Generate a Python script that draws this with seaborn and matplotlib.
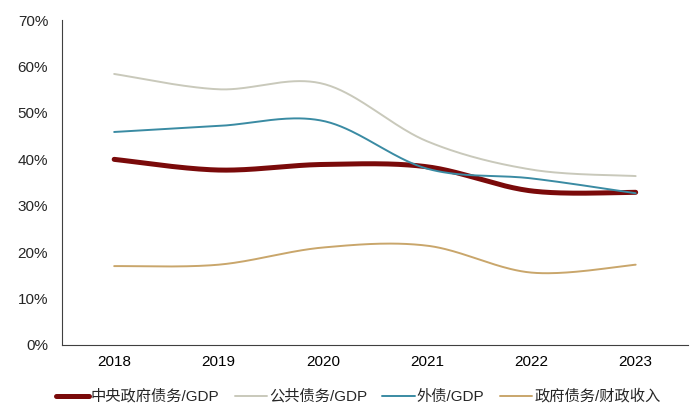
import numpy as np
import pandas as pd
import matplotlib
matplotlib.use("Agg")
import matplotlib.pyplot as plt
import seaborn as sns
from matplotlib.ticker import FixedLocator, PercentFormatter

years = ["2018", "2019", "2020", "2021", "2022", "2023"]
central_debt_gdp = [40.0, 37.7, 38.9, 38.4, 33.2, 32.9]
public_debt_gdp = [58.4, 55.1, 56.3, 43.9, 37.8, 36.4]
external_debt_gdp = [45.9, 47.2, 48.3, 38.0, 35.9, 32.7]
gov_debt_revenue = [17.0, 17.3, 21.0, 21.4, 15.6, 17.3]

series_names = ["中央政府债务/GDP", "公共债务/GDP", "外债/GDP", "政府债务/财政收入"]
series_values = [central_debt_gdp, public_debt_gdp, external_debt_gdp, gov_debt_revenue]
colors = ["#7a0a0a", "#c9c9bb", "#3a8ba3", "#c9a66b"]
widths = [3.6, 1.4, 1.4, 1.4]


def smooth(y, n=40):
    # Excel-style smoothed line (Catmull-Rom bezier) through the data points
    y = np.asarray(y, dtype=float)
    x = np.arange(len(y), dtype=float)
    px = np.concatenate([[x[0]], x, [x[-1]]])
    py = np.concatenate([[y[0]], y, [y[-1]]])
    xs, ys = [], []
    for i in range(len(y) - 1):
        p0x, p1x, p2x, p3x = px[i], px[i + 1], px[i + 2], px[i + 3]
        p0y, p1y, p2y, p3y = py[i], py[i + 1], py[i + 2], py[i + 3]
        c1x, c1y = p1x + (p2x - p0x) / 6, p1y + (p2y - p0y) / 6
        c2x, c2y = p2x - (p3x - p1x) / 6, p2y - (p3y - p1y) / 6
        t = np.linspace(0, 1, n, endpoint=(i == len(y) - 2))
        b0, b1, b2, b3 = (1 - t) ** 3, 3 * (1 - t) ** 2 * t, 3 * (1 - t) * t ** 2, t ** 3
        xs.append(b0 * p1x + b1 * c1x + b2 * c2x + b3 * p2x)
        ys.append(b0 * p1y + b1 * c1y + b2 * c2y + b3 * p2y)
    return np.concatenate(xs), np.concatenate(ys)


sns.set_style("white")
plt.rcParams["font.family"] = ["Liberation Sans", "Noto Sans CJK SC", "DejaVu Sans"]

fig = plt.figure(figsize=(7.0, 4.17), dpi=100)
ax = fig.add_axes([0.0886, 0.1727, 0.894, 0.779])

for name, vals, c, w in zip(series_names, series_values, colors, widths):
    sx, sy = smooth(vals)
    df = pd.DataFrame({"x": sx, "y": sy})
    sns.lineplot(data=df, x="x", y="y", ax=ax, color=c, linewidth=w,
                 label=name, sort=False)

ax.set_xlim(-0.5, len(years) - 0.5)
ax.set_ylim(0, 70)
ax.set_yticks(np.arange(0, 71, 10))
ax.yaxis.set_major_formatter(PercentFormatter(decimals=0))
ax.set_xticks(range(len(years)))
ax.set_xticklabels(years)
ax.xaxis.set_minor_locator(FixedLocator(np.arange(-0.5, len(years), 1.0)))
ax.tick_params(axis="x", which="major", length=0, pad=7, labelsize=11, colors="black")
ax.tick_params(axis="x", which="minor", length=5, width=0.8, color="#404040", direction="out")
ax.tick_params(axis="y", length=4, width=0.8, color="#404040", direction="out",
               labelsize=11, pad=6)
ax.set_xlabel("")
ax.set_ylabel("")
for s in ["top", "right"]:
    ax.spines[s].set_visible(False)
for s in ["left", "bottom"]:
    ax.spines[s].set_color("#404040")
    ax.spines[s].set_linewidth(0.8)

ax.legend_.remove()
handles, labels = ax.get_legend_handles_labels()
fig.legend(handles, labels, loc="center", bbox_to_anchor=(0.512, 0.049), ncol=4,
           frameon=False, fontsize=11, handlelength=2.1, handletextpad=0.15,
           columnspacing=1.0)

fig.savefig("out.png", dpi=100)
